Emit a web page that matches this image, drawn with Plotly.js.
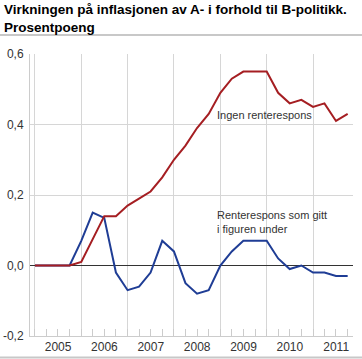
<!DOCTYPE html>
<html>
<head>
<meta charset="utf-8">
<script src="https://cdn.plot.ly/plotly-3.0.1.min.js"></script>
<style>
html,body{margin:0;padding:0;background:#fff;}
#chart{width:362px;height:359px;}
</style>
</head>
<body>
<div id="chart"></div>
<script>
// Quarterly observations (start of each quarter), 2005 K1 – 2011 K4
const quarters = [
  '2005-01-01','2005-04-01','2005-07-01','2005-10-01',
  '2006-01-01','2006-04-01','2006-07-01','2006-10-01',
  '2007-01-01','2007-04-01','2007-07-01','2007-10-01',
  '2008-01-01','2008-04-01','2008-07-01','2008-10-01',
  '2009-01-01','2009-04-01','2009-07-01','2009-10-01',
  '2010-01-01','2010-04-01','2010-07-01','2010-10-01',
  '2011-01-01','2011-04-01','2011-07-01','2011-10-01'
];
// "Ingen renterespons" (red)
const ingenRenterespons = [
  0.00, 0.00, 0.00, 0.00,
  0.01, 0.075, 0.14, 0.14,
  0.17, 0.19, 0.21, 0.25,
  0.30, 0.34, 0.39, 0.43,
  0.49, 0.53, 0.55, 0.55,
  0.55, 0.49, 0.46, 0.47,
  0.45, 0.46, 0.41, 0.43
];
// "Renterespons som gitt i figuren under" (blue)
const medRenterespons = [
  0.00, 0.00, 0.00, 0.00,
  0.07, 0.15, 0.135, -0.02,
  -0.07, -0.06, -0.02, 0.07,
  0.04, -0.05, -0.08, -0.07,
  0.00, 0.04, 0.07, 0.07,
  0.07, 0.02, -0.01, 0.00,
  -0.02, -0.02, -0.03, -0.03
];
const yTickValues = [-0.2, 0, 0.2, 0.4, 0.6];
const yTickLabels = ['-0,2', '0,0', '0,2', '0,4', '0,6'];
const titleText = 'Virkningen på inflasjonen av A- i forhold til B-politikk.<br>Prosentpoeng';
const labelRed = 'Ingen renterespons';
const labelBlue = 'Renterespons som gitt<br>i figuren under';

const FONT = 'Liberation Sans, Arial, sans-serif';
const traces = [
  {x: quarters, y: medRenterespons, type: 'scatter', mode: 'lines',
   line: {color: '#1f3d95', width: 2}, hoverinfo: 'skip'},
  {x: quarters, y: ingenRenterespons, type: 'scatter', mode: 'lines',
   line: {color: '#a51e22', width: 2}, hoverinfo: 'skip'}
];

const layout = {
  width: 362, height: 359,
  margin: {l: 30, r: 9, t: 54, b: 23, pad: 0},
  paper_bgcolor: '#fff', plot_bgcolor: '#fff',
  showlegend: false,
  separators: ',.',
  font: {family: FONT, size: 12, color: '#333'},
  xaxis: {
    type: 'date',
    range: ['2004-11-23', '2011-11-12'],
    tick0: '2005-01-01', dtick: 'M12',
    ticklabelmode: 'period',
    tickformat: '%Y',
    ticks: 'inside', ticklen: 7, tickcolor: '#ccc', tickwidth: 1,
    showgrid: true, gridcolor: '#d6d6d6', gridwidth: 1,
    showline: true, linecolor: '#ccc', linewidth: 1,
    minor: {dtick: 'M3', tick0: '2005-01-01', ticks: 'inside', ticklen: 7, tickcolor: '#ccc', showgrid: false},
    tickfont: {family: FONT, size: 12, color: '#333'},
    zeroline: false, fixedrange: true
  },
  yaxis: {
    range: [-0.2, 0.6],
    tickvals: yTickValues, ticktext: yTickLabels,
    ticks: '', ticklabelstandoff: 3,
    showgrid: true, gridcolor: '#d6d6d6', gridwidth: 1,
    showline: true, linecolor: '#ccc', linewidth: 1,
    zeroline: true, zerolinecolor: '#333', zerolinewidth: 1,
    tickfont: {family: FONT, size: 12, color: '#333'},
    fixedrange: true
  },
  shapes: [
    {type: 'line', xref: 'paper', yref: 'paper', x0: -0.1, x1: 1.03, y0: 1.0675, y1: 1.0675,
     line: {color: '#c8c8c8', width: 2}},
    {type: 'line', xref: 'paper', yref: 'paper', x0: -0.1, x1: 1.03, y0: -0.0765, y1: -0.0765,
     line: {color: '#c8c8c8', width: 2}}
  ],
  annotations: [
    {text: '<b>' + titleText.replace('<br>', '</b><br><b>') + '</b>', xref: 'paper', yref: 'paper',
     x: -0.087, y: 1.192, xanchor: 'left', yanchor: 'top', showarrow: false, align: 'left',
     font: {family: FONT, size: 13.5, color: '#000'}},
    {text: labelRed, xref: 'paper', yref: 'paper', x: 0.573, y: 0.784,
     xanchor: 'left', yanchor: 'middle', showarrow: false, align: 'left',
     font: {family: FONT, size: 11, color: '#333'}},
    {text: labelBlue, xref: 'paper', yref: 'paper', x: 0.573, y: 0.4025,
     xanchor: 'left', yanchor: 'middle', showarrow: false, align: 'left',
     font: {family: FONT, size: 11, color: '#333'}}
  ]
};

Plotly.newPlot('chart', traces, layout, {displayModeBar: false, staticPlot: true});
</script>
</body>
</html>
